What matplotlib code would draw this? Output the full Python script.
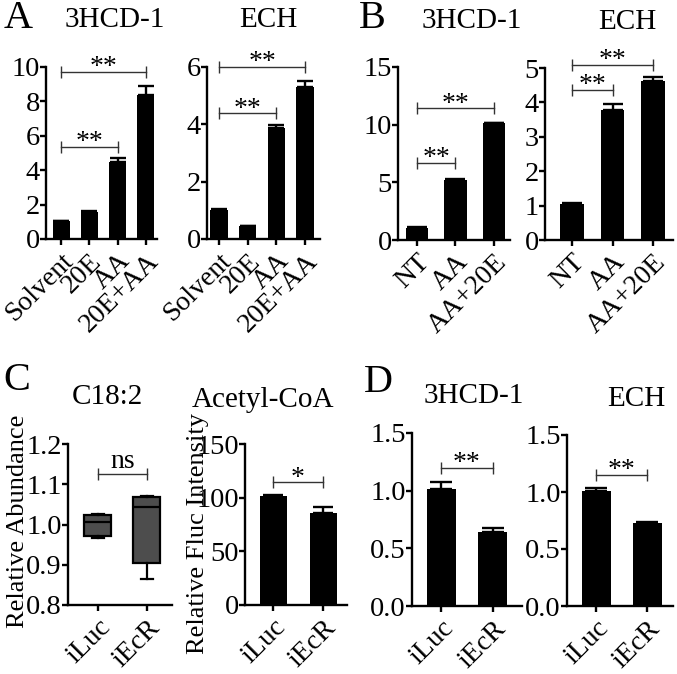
import matplotlib
matplotlib.use("Agg")
import matplotlib.pyplot as plt
import numpy as np

plt.rcParams['font.family'] = ['Liberation Serif', 'DejaVu Serif']

W, H = 677, 674

# ---------------- data ----------------
a_cats = ["Solvent", "20E", "AA", "20E+AA"]
a_3hcd = [1.03, 1.58, 4.50, 8.35]
a_3hcd_err = [0.03, 0.05, 0.20, 0.55]
a_ech = [1.01, 0.45, 3.86, 5.29]
a_ech_err = [0.02, 0.02, 0.11, 0.23]

b_cats = ["NT", "AA", "AA+20E"]
b_3hcd = [1.07, 5.20, 10.12]
b_3hcd_err = [0.08, 0.10, 0.06]
b_ech = [1.04, 3.79, 4.62]
b_ech_err = [0.05, 0.16, 0.12]

cd_cats = ["iLuc", "iEcR"]
c_box_min = [0.966, 0.864]
c_box_q1 = [0.972, 0.905]
c_box_med = [1.005, 1.043]
c_box_q3 = [1.024, 1.069]
c_box_max = [1.026, 1.072]
c_acetyl = [101.5, 85.6]
c_acetyl_err = [1.2, 5.6]

d_3hcd = [1.017, 0.640]
d_3hcd_err = [0.057, 0.035]
d_ech = [1.006, 0.725]
d_ech_err = [0.026, 0.009]

# ---------------- helpers ----------------
fig = plt.figure(figsize=(W / 100, H / 100), dpi=100)

TICK_FS = 20.5
XTICK_FS = 20


def make_ax(l, t, r, b):
    return fig.add_axes([l / W, 1 - b / H, (r - l) / W, (b - t) / H])


def style(ax, cats, xlim, ylim, yticks, fmt=None):
    for s in ("top", "right"):
        ax.spines[s].set_visible(False)
    for s in ("left", "bottom"):
        ax.spines[s].set_linewidth(1.7)
    ax.set_xlim(*xlim)
    ax.set_ylim(*ylim)
    ax.set_yticks(yticks)
    if fmt:
        ax.set_yticklabels([fmt.format(v) for v in yticks])
    ax.set_xticks(range(len(cats)))
    ax.set_xticklabels(cats, rotation=45, ha="right", rotation_mode="anchor",
                       fontsize=XTICK_FS)
    ax.tick_params(axis="both", direction="out", width=1.7, length=4,
                   labelsize=TICK_FS, pad=0.5)
    ax.tick_params(axis="x", labelsize=XTICK_FS, pad=3)


def bars(ax, vals, errs, width=0.6, capsize=6):
    x = np.arange(len(vals))
    ax.bar(x, vals, width=width, color="black", zorder=2)
    ax.errorbar(x, vals, yerr=[np.zeros(len(vals)), errs], fmt="none",
                ecolor="black", elinewidth=1.7, capsize=capsize, capthick=1.7,
                zorder=3)


def bracket(ax, x1, x2, y, label, fs=20, off=-6):
    ax.plot([x1, x2], [y, y], color="#333333", lw=1.0, marker="|",
            markersize=9, markeredgewidth=1.0, clip_on=False, zorder=4)
    ax.annotate(label, xy=((x1 + x2) / 2, y), xytext=(0, off),
                textcoords="offset points", ha="center", va="bottom",
                fontsize=fs, annotation_clip=False)


# ---------------- Panel A ----------------
ax = make_ax(46, 67, 157, 239)
bars(ax, a_3hcd, a_3hcd_err)
style(ax, a_cats, (-0.53, 3.39), (0, 10), [0, 2, 4, 6, 8, 10])
bracket(ax, 0, 3, 9.73, "**")
bracket(ax, 0, 2, 5.37, "**")

ax = make_ax(207, 67, 320, 239)
bars(ax, a_ech, a_ech_err)
style(ax, a_cats, (-0.42, 3.52), (0, 6), [0, 2, 4, 6])
bracket(ax, 0, 3, 6.01, "**")
bracket(ax, 0, 2, 4.38, "**")

# ---------------- Panel B ----------------
ax = make_ax(398, 67, 510, 240)
bars(ax, b_3hcd, b_3hcd_err, width=0.58, capsize=7)
style(ax, b_cats, (-0.49, 2.42), (0, 15), [0, 5, 10, 15])
bracket(ax, 0, 2, 11.42, "**")
bracket(ax, 0, 1, 6.7, "**")

ax = make_ax(545, 68, 673, 240)
bars(ax, b_ech, b_ech_err, width=0.58, capsize=7)
style(ax, b_cats, (-0.67, 2.49), (0, 5), [0, 1, 2, 3, 4, 5])
bracket(ax, 0, 2, 5.1, "**")
bracket(ax, 0, 1, 4.37, "**")

# ---------------- Panel C ----------------
ax = make_ax(68, 444, 172, 605)
stats = []
for i in range(len(cd_cats)):
    stats.append(dict(whislo=c_box_min[i], q1=c_box_q1[i], med=c_box_med[i],
                      q3=c_box_q3[i], whishi=c_box_max[i], fliers=[],
                      label=cd_cats[i]))
ax.bxp(stats, positions=[0, 1], widths=0.55, patch_artist=True,
       boxprops=dict(facecolor="#4d4d4d", edgecolor="black", linewidth=1.6),
       medianprops=dict(color="black", linewidth=1.6),
       whiskerprops=dict(color="black", linewidth=1.6),
       capprops=dict(color="black", linewidth=1.6), capwidths=0.25)
style(ax, cd_cats, (-0.61, 1.51), (0.8, 1.2), [0.8, 0.9, 1.0, 1.1, 1.2],
      fmt="{:.1f}")
bracket(ax, 0, 1, 1.125, "ns", fs=20, off=0)

ax = make_ax(245, 444, 347, 605)
bars(ax, c_acetyl, c_acetyl_err, width=0.54, capsize=7)
style(ax, cd_cats, (-0.56, 1.48), (0, 150), [0, 50, 100, 150])
bracket(ax, 0, 1, 114.2, "*")

# ---------------- Panel D ----------------
ax = make_ax(412, 433, 522, 606)
bars(ax, d_3hcd, d_3hcd_err, width=0.56, capsize=8)
style(ax, cd_cats, (-0.56, 1.56), (0, 1.5), [0.0, 0.5, 1.0, 1.5],
      fmt="{:.1f}")
bracket(ax, 0, 1, 1.2, "**")

ax = make_ax(567, 435, 673, 606)
bars(ax, d_ech, d_ech_err, width=0.56, capsize=8)
style(ax, cd_cats, (-0.57, 1.5), (0, 1.5), [0.0, 0.5, 1.0, 1.5],
      fmt="{:.1f}")
bracket(ax, 0, 1, 1.149, "**")

# ---------------- text ----------------
def ftext(x, y, s, fs, **kw):
    fig.text(x / W, 1 - y / H, s, fontsize=fs, ha="center", va="center", **kw)

LET_FS = 29
TIT_FS = 21
ftext(18, 18, "A", LET_FS)
ftext(372, 18, "B", LET_FS)
ftext(17, 381, "C", LET_FS)
ftext(378, 383, "D", LET_FS)

ftext(115, 20, "3HCD-1", TIT_FS)
ftext(268, 20, "ECH", TIT_FS)
ftext(472, 21, "3HCD-1", TIT_FS)
ftext(627, 22, "ECH", TIT_FS)
ftext(107, 397, "C18:2", TIT_FS)
ftext(263, 400, "Acetyl-CoA", TIT_FS)
ftext(474, 396, "3HCD-1", TIT_FS)
ftext(636, 399, "ECH", TIT_FS)

ftext(18, 521, "Relative Abundance", 19, rotation=90)
ftext(198, 534, "Relative Fluc Intensity", 19, rotation=90)

fig.savefig("out.png", dpi=100)
